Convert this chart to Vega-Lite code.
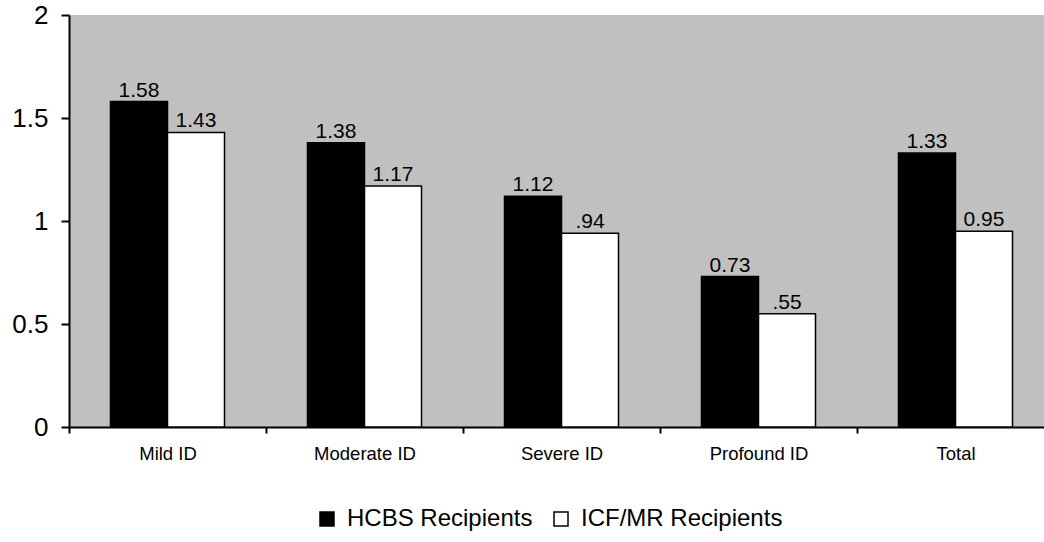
{
  "$schema": "https://vega.github.io/schema/vega-lite/v6.json",
  "autosize": {"type": "none"},
  "width": 975,
  "height": 412,
  "padding": {"left": 69, "top": 15, "right": 0, "bottom": 115},
  "background": "#ffffff",
  "config": {
    "font": "Liberation Sans",
    "view": {"fill": "#C0C0C0", "stroke": null}
  },
  "data": {
    "values": [
      {"category": "Mild ID", "series": "HCBS Recipients", "value": 1.58, "label": "1.58"},
      {"category": "Mild ID", "series": "ICF/MR Recipients", "value": 1.43, "label": "1.43"},
      {"category": "Moderate ID", "series": "HCBS Recipients", "value": 1.38, "label": "1.38"},
      {"category": "Moderate ID", "series": "ICF/MR Recipients", "value": 1.17, "label": "1.17"},
      {"category": "Severe ID", "series": "HCBS Recipients", "value": 1.12, "label": "1.12"},
      {"category": "Severe ID", "series": "ICF/MR Recipients", "value": 0.94, "label": ".94"},
      {"category": "Profound ID", "series": "HCBS Recipients", "value": 0.73, "label": "0.73"},
      {"category": "Profound ID", "series": "ICF/MR Recipients", "value": 0.55, "label": ".55"},
      {"category": "Total", "series": "HCBS Recipients", "value": 1.33, "label": "1.33"},
      {"category": "Total", "series": "ICF/MR Recipients", "value": 0.95, "label": "0.95"}
    ]
  },
  "encoding": {
    "x": {
      "field": "category",
      "type": "nominal",
      "sort": ["Mild ID", "Moderate ID", "Severe ID", "Profound ID", "Total"],
      "scale": {"range": [0, 985], "paddingInner": 0, "paddingOuter": 0},
      "axis": {
        "title": null,
        "labelAngle": 0,
        "labelFontSize": 18.5,
        "labelColor": "#000000",
        "labelPadding": 11,
        "tickBand": "extent",
        "tickSize": 6,
        "tickColor": "#000000",
        "tickWidth": 2,
        "domainColor": "#000000",
        "domainWidth": 2
      }
    },
    "xOffset": {
      "field": "series",
      "type": "nominal",
      "sort": ["HCBS Recipients", "ICF/MR Recipients"],
      "scale": {"paddingInner": 0, "paddingOuter": 0.728}
    },
    "y": {
      "field": "value",
      "type": "quantitative",
      "scale": {"domain": [0, 2], "nice": false},
      "axis": {
        "title": null,
        "values": [0, 0.5, 1, 1.5, 2],
        "format": ".2~f",
        "grid": false,
        "labelFontSize": 26,
        "labelColor": "#000000",
        "labelPadding": 13,
        "tickSize": 8,
        "tickColor": "#000000",
        "tickWidth": 2,
        "domainColor": "#000000",
        "domainWidth": 2
      }
    }
  },
  "layer": [
    {
      "mark": {"type": "bar", "stroke": "#000000", "strokeWidth": 1.5},
      "encoding": {
        "fill": {
          "field": "series",
          "type": "nominal",
          "scale": {"domain": ["HCBS Recipients", "ICF/MR Recipients"], "range": ["#000000", "#ffffff"]},
          "legend": {
            "title": null,
            "orient": "none",
            "legendX": 246,
            "legendY": 492,
            "direction": "horizontal",
            "symbolType": "square",
            "symbolSize": 196,
            "symbolStrokeColor": "#000000",
            "symbolStrokeWidth": 1.5,
            "symbolOpacity": 1,
            "labelFontSize": 24,
            "labelColor": "#000000",
            "labelOffset": 8,
            "labelLimit": 400,
            "columnPadding": 16
          }
        }
      }
    },
    {
      "mark": {"type": "text", "baseline": "alphabetic", "dy": -5, "fontSize": 21, "color": "#000000"},
      "encoding": {
        "text": {"field": "label"}
      }
    }
  ]
}
